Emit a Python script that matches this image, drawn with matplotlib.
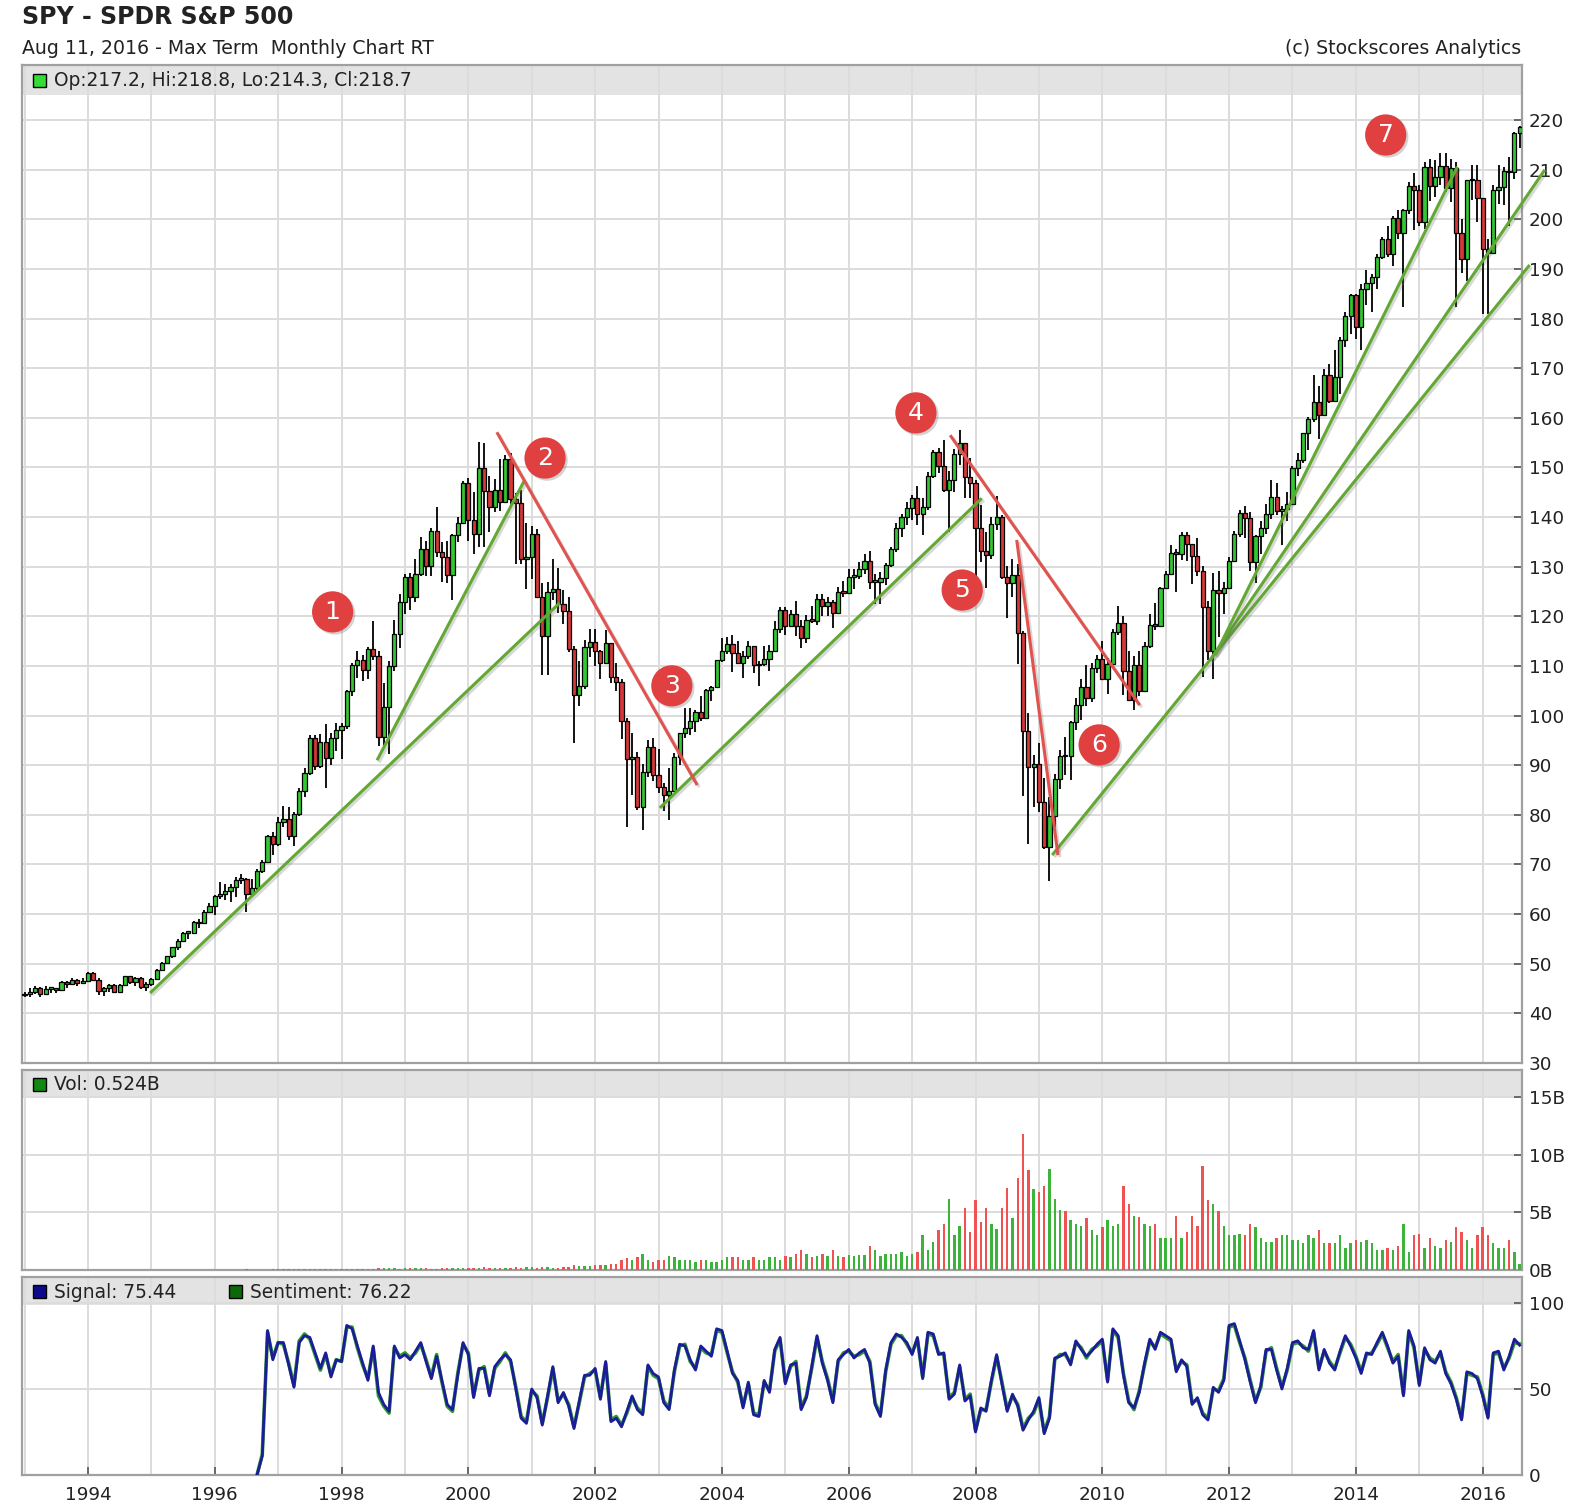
### SPY monthly candlestick chart with volume and signal/sentiment panels

import numpy as np
import matplotlib
matplotlib.use("Agg")
import matplotlib.pyplot as plt
import matplotlib.patheffects as pe
from matplotlib.patches import Rectangle

nan = np.nan
first_year = 1993
first_open = 43.7

# Monthly closes, Jan 1993 .. Aug 2016 (one row per year)
close_px = [
    43.9, 44.3, 45.2, 44.0, 45.0, 45.1, 44.8, 46.4, 45.9, 46.8, 46.2, 46.6,
    48.2, 46.7, 44.6, 45.1, 45.7, 44.4, 45.8, 47.5, 46.3, 47.2, 45.4, 45.9,
    47.0, 48.7, 50.1, 51.5, 53.3, 54.5, 56.2, 56.2, 58.4, 58.2, 60.5, 61.6,
    63.6, 64.0, 64.6, 65.4, 66.9, 67.1, 64.0, 65.2, 68.7, 70.5, 75.7, 74.1,
    78.6, 79.1, 75.7, 80.1, 84.8, 88.5, 95.4, 89.9, 94.7, 91.5, 95.5, 97.0,
    98.0, 104.9, 110.2, 111.2, 109.1, 113.4, 112.1, 95.7, 101.7, 109.9, 116.4, 122.9,
    128.0, 123.8, 128.6, 133.5, 130.2, 137.3, 132.9, 132.0, 128.3, 136.3, 138.9, 146.9,
    139.4, 136.6, 149.9, 145.2, 142.1, 145.5, 143.1, 151.8, 143.7, 142.9, 131.5, 132.0,
    136.6, 124.0, 116.0, 124.9, 125.6, 122.4, 121.1, 113.4, 104.1, 106.0, 113.9, 114.8,
    113.0, 110.7, 114.7, 107.7, 106.7, 99.0, 91.2, 91.6, 81.5, 88.6, 93.6, 88.0,
    85.6, 84.1, 84.8, 91.7, 96.4, 97.5, 99.0, 100.8, 99.6, 105.1, 105.8, 111.2,
    113.1, 114.5, 112.6, 110.7, 112.1, 114.1, 110.2, 110.4, 111.5, 113.0, 117.4, 121.2,
    118.1, 120.4, 118.1, 115.7, 119.2, 119.1, 123.4, 122.0, 122.9, 120.7, 124.9, 124.8,
    128.0, 128.1, 129.5, 131.1, 127.0, 127.0, 127.7, 130.4, 133.6, 137.8, 140.1, 141.8,
    143.8, 140.7, 142.1, 148.2, 153.1, 150.3, 145.5, 147.4, 152.7, 154.9, 148.1, 146.8,
    137.9, 133.1, 132.3, 138.6, 140.0, 128.0, 126.7, 128.3, 116.6, 96.9, 89.6, 90.3,
    82.6, 73.5, 79.8, 87.3, 91.9, 91.8, 98.7, 102.1, 105.7, 103.6, 109.6, 111.5,
    107.4, 110.4, 116.9, 118.7, 108.9, 103.1, 110.2, 104.9, 114.1, 118.3, 118.1, 125.8,
    128.6, 132.7, 132.6, 136.4, 134.5, 132.1, 129.2, 121.9, 113.1, 125.3, 124.7, 125.8,
    131.2, 136.6, 140.8, 139.8, 131.0, 136.2, 137.9, 140.7, 144.1, 141.2, 141.6, 142.6,
    149.8, 151.5, 156.9, 159.8, 163.1, 160.6, 168.6, 163.3, 168.2, 175.7, 180.6, 184.8,
    178.3, 185.9, 187.2, 188.4, 192.4, 196.0, 193.1, 200.3, 197.2, 201.8, 206.8, 205.9,
    199.5, 210.5, 206.8, 208.6, 210.7, 206.3, 210.4, 197.2, 192.0, 207.9, 208.0, 204.4,
    194.0, 193.2, 206.0, 206.5, 209.7, 209.5, 217.4, 218.7,
]

high_px = [
    44.3, 45.1, 45.6, 45.3, 45.5, 45.4, 45.2, 46.5, 46.5, 47.1, 46.9, 47.1,
    48.3, 48.3, 47.1, 45.4, 46.0, 46.0, 46.0, 47.6, 47.6, 47.4, 47.4, 46.3,
    47.2, 49.0, 50.4, 51.6, 53.4, 55.0, 56.4, 56.6, 58.6, 59.0, 60.8, 62.2,
    63.8, 66.4, 66.0, 66.0, 67.5, 68.0, 67.3, 67.0, 69.0, 71.0, 76.0, 76.5,
    79.5, 81.8, 81.5, 80.5, 85.5, 89.5, 96.0, 96.0, 96.3, 98.3, 96.5, 98.6,
    98.5, 105.2, 110.6, 113.0, 112.2, 113.8, 119.0, 113.0, 106.6, 111.0, 119.3, 124.5,
    128.5, 128.7, 131.6, 136.0, 135.1, 137.9, 142.1, 135.0, 135.2, 136.5, 140.0, 147.3,
    147.8, 145.0, 155.2, 154.9, 148.2, 147.7, 151.7, 152.5, 153.0, 144.9, 145.4, 138.9,
    138.3, 137.6, 126.7, 126.9, 131.6, 129.7, 125.4, 124.0, 114.0, 111.0, 115.3, 117.4,
    117.5, 113.3, 117.3, 114.7, 110.6, 107.3, 99.5, 96.5, 92.7, 90.3, 95.1, 95.5,
    93.2, 86.4, 89.5, 92.5, 96.5, 101.5, 101.5, 101.2, 104.0, 105.3, 106.0, 111.3,
    115.6, 115.8, 116.3, 115.0, 113.0, 115.0, 114.0, 111.0, 114.0, 114.2, 119.0, 121.9,
    121.8, 121.2, 123.0, 119.2, 120.2, 122.0, 124.5, 124.5, 124.0, 123.3, 126.0, 127.2,
    129.5, 129.6, 131.0, 132.6, 133.2, 128.5, 129.0, 130.7, 134.0, 138.9, 140.7, 143.1,
    144.4, 146.2, 143.9, 149.0, 153.6, 154.0, 155.5, 149.2, 153.8, 157.5, 155.0, 152.0,
    147.5, 142.4, 137.0, 140.0, 144.3, 140.5, 130.2, 131.5, 130.5, 117.0, 100.5, 92.0,
    94.5, 87.5, 83.5, 88.2, 93.0, 95.6, 99.0, 103.5, 107.4, 110.1, 110.6, 112.3,
    115.1, 111.6, 117.4, 122.1, 120.0, 113.1, 112.0, 113.0, 114.8, 120.4, 122.7, 126.0,
    129.2, 134.4, 133.6, 136.9, 137.0, 134.5, 135.7, 130.2, 123.0, 128.8, 129.2, 127.0,
    132.0, 137.2, 141.4, 142.2, 141.0, 136.3, 139.2, 142.6, 147.5, 146.8, 142.2, 145.0,
    150.3, 153.0, 157.0, 160.2, 168.7, 166.4, 169.9, 170.9, 173.6, 176.3, 181.3, 185.0,
    185.0, 186.9, 189.7, 189.0, 193.0, 196.5, 198.7, 200.6, 201.9, 202.0, 207.5, 209.4,
    206.9, 211.6, 212.2, 212.0, 213.4, 213.3, 212.1, 211.5, 200.0, 208.0, 211.0, 211.0,
    203.0, 196.0, 206.9, 210.9, 210.5, 212.5, 217.6, 218.8,
]

low_px = [
    43.2, 43.2, 44.0, 43.3, 43.8, 44.2, 44.2, 44.7, 45.2, 45.7, 45.6, 46.0,
    46.4, 46.5, 43.8, 43.5, 44.4, 44.2, 44.3, 45.7, 46.0, 45.6, 44.9, 44.5,
    45.5, 47.0, 48.5, 50.0, 51.2, 52.8, 54.3, 55.0, 56.0, 57.2, 58.0, 60.2,
    59.8, 63.0, 62.8, 62.5, 63.5, 66.0, 60.5, 63.9, 64.8, 68.3, 70.3, 72.0,
    73.7, 77.5, 75.0, 73.7, 79.8, 83.5, 88.0, 89.0, 89.5, 85.5, 90.0, 92.8,
    91.3, 97.4, 104.0, 107.6, 107.0, 107.4, 111.2, 93.8, 93.9, 92.3, 109.0, 113.7,
    120.5, 121.2, 122.8, 128.1, 128.1, 128.1, 132.0, 127.0, 126.8, 123.3, 135.0, 138.8,
    135.1, 132.5, 133.9, 133.9, 137.0, 141.1, 141.3, 143.0, 142.5, 130.5, 130.6, 125.5,
    127.5, 124.0, 108.2, 108.1, 123.2, 120.6, 118.5, 112.9, 94.4, 102.0, 105.4, 111.9,
    110.0, 107.4, 110.7, 106.5, 104.9, 95.2, 77.6, 84.1, 81.0, 76.9, 87.6, 86.9,
    84.4, 80.7, 78.9, 84.7, 90.0, 95.5, 96.0, 96.6, 99.0, 99.6, 103.0, 105.8,
    110.8, 112.4, 108.7, 110.4, 107.6, 111.4, 108.5, 106.0, 109.9, 108.9, 113.2, 116.7,
    116.3, 117.9, 116.1, 113.7, 114.6, 118.7, 118.3, 120.0, 120.0, 117.6, 120.7, 124.0,
    124.6, 125.6, 127.5, 128.5, 125.6, 122.4, 122.4, 126.3, 129.9, 133.0, 136.0, 138.5,
    139.4, 138.5, 136.4, 141.5, 147.9, 148.8, 145.0, 137.0, 145.0, 150.5, 143.9, 143.8,
    127.0, 131.0, 125.7, 131.5, 137.5, 127.5, 119.6, 124.0, 110.5, 83.9, 74.1, 81.5,
    80.5, 73.2, 66.7, 77.5, 85.3, 88.0, 87.0, 97.0, 99.2, 102.0, 102.7, 108.6,
    107.2, 104.4, 110.5, 116.2, 104.1, 102.9, 101.1, 104.0, 104.9, 113.7, 117.3, 118.5,
    125.7, 128.5, 124.9, 131.3, 131.1, 126.5, 128.2, 107.7, 111.3, 107.4, 115.8, 120.4,
    126.7, 131.6, 136.0, 135.8, 129.1, 126.7, 132.5, 136.6, 139.6, 140.5, 134.3, 139.2,
    142.6, 148.3, 150.9, 153.6, 159.2, 155.7, 160.4, 163.0, 163.4, 164.8, 174.3, 176.8,
    175.9, 173.7, 182.8, 181.3, 186.0, 192.0, 192.5, 190.5, 196.0, 182.4, 201.0, 197.9,
    198.6, 198.1, 203.7, 204.5, 207.0, 205.5, 203.5, 182.4, 189.1, 187.5, 203.8, 199.5,
    181.0, 181.0, 193.5, 203.0, 202.8, 198.7, 208.2, 214.3,
]

# Monthly volume in billions of shares
volume_b = [
    0.004, 0.005, 0.006, 0.005, 0.006, 0.005, 0.006, 0.007, 0.006, 0.008, 0.007, 0.008,
    0.010, 0.012, 0.015, 0.012, 0.011, 0.012, 0.010, 0.012, 0.013, 0.014, 0.015, 0.016,
    0.015, 0.016, 0.018, 0.017, 0.020, 0.022, 0.021, 0.020, 0.024, 0.022, 0.025, 0.024,
    0.030, 0.032, 0.035, 0.030, 0.033, 0.030, 0.045, 0.035, 0.038, 0.040, 0.042, 0.045,
    0.05, 0.06, 0.08, 0.07, 0.07, 0.06, 0.07, 0.09, 0.08, 0.13, 0.09, 0.08,
    0.09, 0.08, 0.09, 0.10, 0.10, 0.11, 0.12, 0.20, 0.19, 0.17, 0.14, 0.13,
    0.15, 0.14, 0.15, 0.14, 0.14, 0.13, 0.13, 0.15, 0.16, 0.18, 0.15, 0.14,
    0.17, 0.18, 0.20, 0.22, 0.19, 0.17, 0.16, 0.15, 0.17, 0.22, 0.20, 0.22,
    0.22, 0.21, 0.30, 0.26, 0.20, 0.20, 0.22, 0.27, 0.40, 0.38, 0.35, 0.33,
    0.40, 0.40, 0.40, 0.50, 0.50, 0.90, 1.00, 0.90, 1.10, 1.40, 0.90, 0.70,
    0.90, 0.90, 1.20, 1.10, 0.90, 0.90, 0.90, 0.70, 0.90, 0.90, 0.70, 0.70,
    0.90, 1.10, 1.10, 1.10, 0.90, 0.90, 1.10, 0.90, 0.90, 1.10, 1.10, 0.90,
    1.25, 1.10, 1.40, 1.70, 1.40, 1.10, 1.25, 1.40, 1.25, 1.70, 1.25, 1.10,
    1.30, 1.20, 1.30, 1.30, 2.10, 1.70, 1.25, 1.40, 1.40, 1.40, 1.55, 1.25,
    1.40, 1.60, 3.00, 1.70, 2.40, 3.50, 4.00, 6.20, 3.00, 3.80, 5.40, 3.30,
    6.10, 4.20, 5.40, 4.00, 3.60, 5.40, 7.10, 4.50, 8.00, 11.8, 8.70, 7.00,
    6.80, 7.30, 8.80, 6.20, 5.20, 5.10, 4.30, 4.00, 3.80, 4.50, 3.50, 3.00,
    3.70, 4.30, 3.80, 4.00, 7.30, 5.70, 4.70, 4.60, 4.00, 3.80, 4.00, 2.75,
    2.75, 2.75, 4.70, 2.75, 3.30, 4.70, 3.80, 9.00, 6.10, 5.70, 5.10, 3.80,
    3.00, 3.00, 3.10, 3.00, 4.00, 3.70, 2.75, 2.40, 2.40, 2.75, 3.00, 3.00,
    2.60, 2.60, 2.30, 3.00, 2.75, 3.50, 2.30, 2.30, 2.30, 3.00, 1.90, 2.30,
    2.60, 2.40, 2.60, 2.30, 1.70, 1.70, 1.90, 1.70, 2.10, 4.00, 1.60, 3.00,
    3.10, 1.90, 2.75, 2.10, 1.90, 2.60, 2.40, 3.70, 3.30, 2.60, 1.90, 3.00,
    3.70, 3.00, 2.30, 1.90, 1.90, 2.60, 1.60, 0.524,
]

# Signal and sentiment indicator (0-100), starts late 1996
signal = [
    nan, nan, nan, nan, nan, nan, nan, nan, nan, nan, nan, nan,
    nan, nan, nan, nan, nan, nan, nan, nan, nan, nan, nan, nan,
    nan, nan, nan, nan, nan, nan, nan, nan, nan, nan, nan, nan,
    nan, nan, nan, nan, nan, nan, nan, nan, 0, 11, 84, 67,
    77, 77, 64, 51, 77, 81, 80, 71, 62, 71, 57, 67,
    66, 87, 85, 75, 65, 55, 75, 48, 41, 37, 75, 68,
    70, 67, 72, 77, 66, 56, 69, 55, 41, 38, 58, 77,
    70, 45, 62, 62, 46, 63, 67, 70, 67, 50, 33, 30,
    50, 45, 29, 46, 63, 42, 48, 40, 27, 43, 58, 58,
    62, 44, 66, 31, 33, 28, 37, 46, 38, 35, 64, 59,
    57, 42, 38, 61, 76, 75, 67, 61, 75, 72, 69, 85,
    84, 72, 59, 55, 39, 54, 35, 34, 55, 48, 73, 80,
    53, 64, 65, 38, 45, 63, 81, 65, 55, 42, 67, 70,
    73, 68, 71, 73, 65, 41, 34, 61, 77, 82, 80, 77,
    70, 80, 56, 83, 82, 70, 71, 44, 47, 64, 43, 46,
    25, 39, 37, 55, 70, 53, 37, 47, 40, 26, 32, 37,
    45, 24, 33, 68, 69, 71, 64, 78, 73, 69, 72, 76,
    79, 54, 85, 81, 58, 42, 39, 48, 65, 79, 73, 83,
    81, 79, 60, 67, 63, 41, 45, 35, 32, 51, 48, 55,
    87, 88, 78, 67, 54, 42, 52, 73, 73, 61, 50, 62,
    77, 78, 74, 73, 84, 61, 73, 65, 61, 72, 81, 75,
    68, 59, 71, 70, 77, 83, 75, 65, 69, 46, 84, 75,
    52, 74, 67, 65, 72, 59, 53, 44, 32, 60, 59, 56,
    46, 33, 71, 72, 61, 69, 79, 75.44,
]

sentiment = [
    nan, nan, nan, nan, nan, nan, nan, nan, nan, nan, nan, nan,
    nan, nan, nan, nan, nan, nan, nan, nan, nan, nan, nan, nan,
    nan, nan, nan, nan, nan, nan, nan, nan, nan, nan, nan, nan,
    nan, nan, nan, nan, nan, nan, nan, nan, 0, 12, 83, 68,
    77, 76, 65, 52, 78, 82, 79, 70, 61, 70, 58, 67,
    66, 86, 86, 74, 64, 56, 74, 46, 40, 36, 74, 69,
    71, 68, 71, 76, 67, 57, 70, 54, 40, 37, 59, 76,
    71, 46, 61, 63, 47, 62, 66, 71, 66, 51, 34, 31,
    49, 46, 30, 45, 62, 43, 47, 41, 28, 42, 57, 59,
    61, 45, 65, 32, 34, 29, 36, 45, 39, 36, 63, 58,
    56, 43, 39, 60, 75, 76, 66, 62, 74, 71, 70, 84,
    83, 71, 60, 54, 40, 53, 36, 35, 54, 49, 72, 79,
    54, 63, 66, 39, 46, 62, 80, 66, 56, 43, 66, 71,
    72, 69, 70, 72, 66, 42, 35, 60, 76, 81, 81, 76,
    71, 79, 57, 82, 81, 71, 70, 45, 48, 63, 44, 47,
    26, 38, 38, 54, 69, 54, 38, 46, 41, 27, 33, 36,
    44, 25, 34, 67, 70, 70, 65, 77, 74, 68, 73, 75,
    78, 55, 84, 80, 59, 43, 38, 49, 64, 78, 74, 82,
    80, 78, 61, 66, 64, 42, 44, 36, 33, 50, 49, 56,
    86, 87, 77, 68, 55, 43, 51, 72, 74, 62, 51, 61,
    76, 77, 75, 72, 83, 62, 72, 66, 62, 71, 80, 76,
    69, 60, 70, 71, 76, 82, 74, 66, 70, 47, 83, 74,
    53, 73, 68, 66, 71, 60, 54, 45, 33, 59, 58, 57,
    47, 34, 70, 71, 62, 68, 77, 76.22,
]

# Hand-drawn trend lines: (start date, start price, end date, end price)
green_lines = [
    (1994.98, 44.1, 2001.44, 122.7),
    (1998.56, 91.0, 2000.89, 147.5),
    (2003.02, 81.4, 2008.10, 143.8),
    (2009.21, 71.9, 2016.74, 190.8),
    (2011.70, 111.2, 2016.98, 210.0),
    (2011.78, 112.2, 2015.60, 210.6),
]
red_lines = [
    (2000.45, 157.1, 2003.61, 86.0),
    (2007.60, 156.5, 2010.59, 102.1),
    (2008.65, 135.4, 2009.30, 71.9),
]
# Numbered callouts: (label, date, price)
callouts = [
    ("1", 1997.86, 120.9), ("2", 2001.21, 151.9), ("3", 2003.21, 106.0),
    ("4", 2007.06, 161.0), ("5", 2007.79, 125.3), ("6", 2009.95, 94.1),
    ("7", 2014.47, 217.0),
]

W, H = 1569, 1509
GRID = '#dcdcdc'
SPINE = '#a0a0a0'
BAND = '#e3e3e3'
TXT = '#222222'


def fig_rect(px0, py0, px1, py1):
    # pixel box (top-left origin) -> figure fraction rect
    return [px0 / W, 1 - py1 / H, (px1 - px0) / W, (py1 - py0) / H]


def style_axis(ax, yticks, ylabels, ylim, band_from):
    ax.set_xlim(1992.96, 2016.62)
    ax.set_ylim(*ylim)
    ax.set_xticks(np.arange(1994, 2017, 2))
    ax.set_xticks(np.arange(1993, 2017, 1), minor=True)
    ax.set_yticks(yticks)
    ax.set_yticklabels(ylabels)
    ax.yaxis.tick_right()
    ax.tick_params(axis='y', direction='in', length=6, width=1.2, color='#555555',
                   pad=5, labelsize=13.2, labelcolor=TXT)
    ax.tick_params(axis='x', which='both', direction='in', length=0)
    ax.grid(True, which='both', axis='x', color=GRID, lw=1.4)
    ax.grid(True, which='major', axis='y', color=GRID, lw=1.4)
    ax.set_axisbelow(True)
    ax.axhspan(band_from, ylim[1], color=BAND, zorder=0.1, lw=0)
    for s in ax.spines.values():
        s.set_color(SPINE)
        s.set_linewidth(1.6)


def legend_box(fig, px, py, color, text):
    fig.patches.append(Rectangle((px / W, 1 - (py + 13) / H), 13 / W, 13 / H,
                                 transform=fig.transFigure, facecolor=color,
                                 edgecolor='black', lw=1.0, zorder=10))
    fig.text((px + 21) / W, 1 - (py + 7) / H, text, fontsize=13.4,
             va='center', ha='left', color=TXT, zorder=10)


def main():
    plt.rcParams['font.family'] = ['DejaVu Sans']

    close = np.array(close_px)
    high = np.array(high_px)
    low = np.array(low_px)
    opens = np.r_[first_open, close[:-1]]
    vol = np.array(volume_b)
    sig = np.array(signal, dtype=float)
    sen = np.array(sentiment, dtype=float)
    t = first_year + np.arange(len(close)) / 12.0
    up = close >= opens

    fig = plt.figure(figsize=(W / 100, H / 100), dpi=100)
    ax = fig.add_axes(fig_rect(22, 65, 1522, 1063))
    axv = fig.add_axes(fig_rect(22, 1070, 1522, 1270))
    axs = fig.add_axes(fig_rect(22, 1277, 1522, 1475))

    # --- price panel
    style_axis(ax, np.arange(30, 221, 10), [str(v) for v in range(30, 221, 10)],
               (30, 231.1), 225.0)
    ax.set_xticklabels([])
    ax.vlines(t, np.minimum(low, np.minimum(opens, close)),
              np.maximum(high, np.maximum(opens, close)),
              color='black', lw=1.3, zorder=3)
    body_lo = np.minimum(opens, close)
    body_h = np.maximum(np.abs(close - opens), 0.3)
    ax.bar(t, body_h, bottom=body_lo, width=0.066,
           color=np.where(up, '#33c833', '#d63838'),
           edgecolor='black', linewidth=0.9, zorder=4)

    shadow = [pe.SimpleLineShadow(offset=(1.5, -1.5), alpha=0.25, shadow_color='#666666'),
              pe.Normal()]
    for x0, y0, x1, y1 in green_lines:
        ax.plot([x0, x1], [y0, y1], color='#62a833', lw=2.2, zorder=5,
                clip_on=False, solid_capstyle='butt', path_effects=shadow)
    for x0, y0, x1, y1 in red_lines:
        ax.plot([x0, x1], [y0, y1], color='#e0534f', lw=2.2, zorder=5,
                clip_on=False, solid_capstyle='butt', path_effects=shadow)

    # callout circles: a faint offset shadow, then the red disc
    cx = np.array([c[1] for c in callouts])
    cy = np.array([c[2] for c in callouts])
    ax.scatter(cx, cy, s=880, color='#e0403f', edgecolor='none', zorder=6,
               path_effects=[pe.SimplePatchShadow(offset=(1.5, -1.5), alpha=0.25,
                                                  shadow_rgbFace=(0.3, 0.3, 0.3)),
                             pe.Normal()])
    for label, x, y in callouts:
        ax.text(x, y, label, color='white', fontsize=18, ha='center',
                va='center', zorder=7)

    # --- volume panel
    style_axis(axv, [0, 5, 10, 15], ['0B', '5B', '10B', '15B'], (0, 17.35), 15.0)
    axv.set_xticklabels([])
    axv.bar(t, vol, width=0.038, color=np.where(up, '#3cb43c', '#f05252'),
            lw=0, zorder=3)

    # --- signal panel
    style_axis(axs, [0, 50, 100], ['0', '50', '100'], (0, 115.1), 99.0)
    axs.plot(t, sen, color='#2e9a2e', lw=2.6, zorder=3)
    axs.plot(t, sig, color='#1c1c9a', lw=2.0, zorder=4)
    axs.set_xticklabels([str(y) for y in range(1994, 2017, 2)])
    axs.tick_params(axis='x', which='major', direction='in', length=6, width=1.2,
                    color='#555555', pad=8, labelsize=13.2, labelcolor=TXT)

    # --- titles and panel headers
    fig.text(22 / W, 1 - 17 / H, 'SPY - SPDR S&P 500', fontsize=17,
             fontweight='bold', va='center', ha='left', color=TXT)
    fig.text(22 / W, 1 - 48 / H, 'Aug 11, 2016 - Max Term  Monthly Chart RT',
             fontsize=13.6, va='center', ha='left', color=TXT)
    fig.text(1521 / W, 1 - 48 / H, '(c) Stockscores Analytics',
             fontsize=13.6, va='center', ha='right', color=TXT)

    legend_box(fig, 33, 74, '#33dd33', 'Op:217.2, Hi:218.8, Lo:214.3, Cl:218.7')
    legend_box(fig, 33, 1078, '#118811', 'Vol: 0.524B')
    legend_box(fig, 33, 1285, '#0a0a8a', 'Signal: 75.44')
    legend_box(fig, 229, 1285, '#0a6a0a', 'Sentiment: 76.22')

    fig.savefig('out.png', dpi=100, facecolor='white')


if __name__ == "__main__":
    main()
